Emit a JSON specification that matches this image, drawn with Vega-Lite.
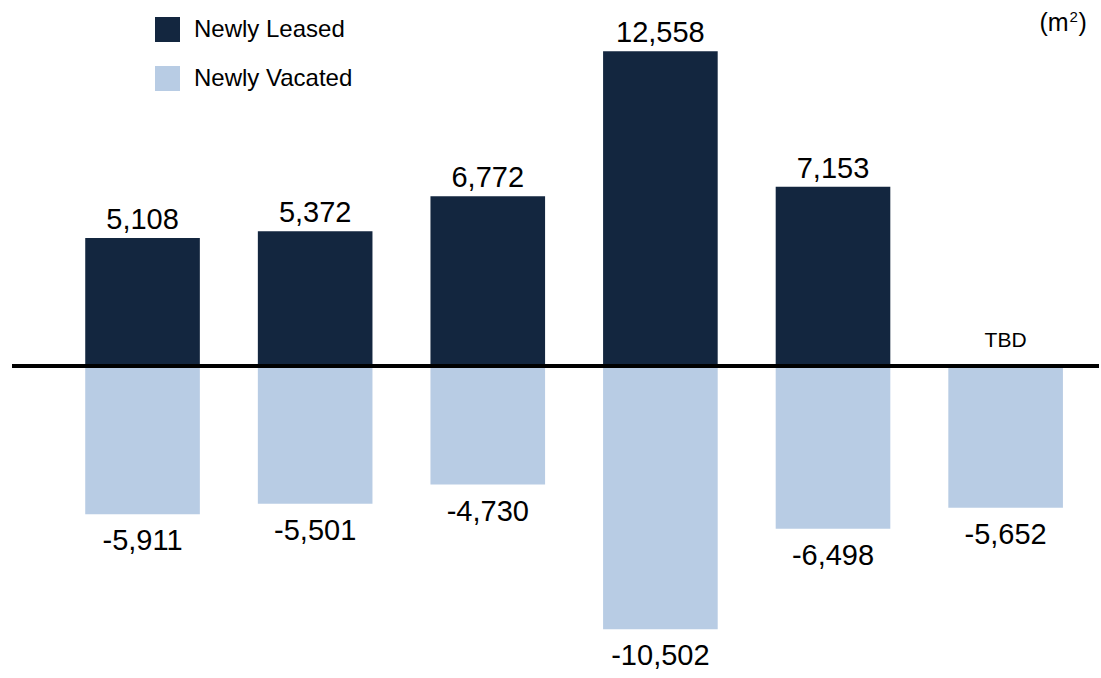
{
  "$schema": "https://vega.github.io/schema/vega-lite/v6.json",
  "width": 1101,
  "height": 678,
  "autosize": {"type": "fit", "contains": "padding"},
  "padding": {"left": 10, "top": 0, "right": 0, "bottom": 0},
  "background": "white",
  "config": {
    "view": {"stroke": null},
    "font": "Liberation Sans",
    "text": {"font": "Liberation Sans", "color": "black"}
  },
  "data": {
    "values": [
      {"period": "P1", "type": "Newly Leased", "value": 5108, "label": "5,108"},
      {"period": "P1", "type": "Newly Vacated", "value": -5911, "label": "-5,911"},
      {"period": "P2", "type": "Newly Leased", "value": 5372, "label": "5,372"},
      {"period": "P2", "type": "Newly Vacated", "value": -5501, "label": "-5,501"},
      {"period": "P3", "type": "Newly Leased", "value": 6772, "label": "6,772"},
      {"period": "P3", "type": "Newly Vacated", "value": -4730, "label": "-4,730"},
      {"period": "P4", "type": "Newly Leased", "value": 12558, "label": "12,558"},
      {"period": "P4", "type": "Newly Vacated", "value": -10502, "label": "-10,502"},
      {"period": "P5", "type": "Newly Leased", "value": 7153, "label": "7,153"},
      {"period": "P5", "type": "Newly Vacated", "value": -6498, "label": "-6,498"},
      {"period": "P6", "type": "Newly Leased", "value": 0, "label": "TBD"},
      {"period": "P6", "type": "Newly Vacated", "value": -5652, "label": "-5,652"}
    ]
  },
  "encoding": {
    "x": {
      "field": "period",
      "type": "nominal",
      "axis": null,
      "scale": {"paddingInner": 0.336, "paddingOuter": 0.3166, "align": 0.67}
    },
    "y": {
      "field": "value",
      "type": "quantitative",
      "axis": null,
      "scale": {"domain": [-12449, 14603], "nice": false, "zero": false}
    }
  },
  "layer": [
    {
      "transform": [{"filter": "datum.value != 0"}],
      "mark": {"type": "bar"},
      "encoding": {
        "y2": {"datum": 0},
        "fill": {
          "field": "type",
          "type": "nominal",
          "scale": {"domain": ["Newly Leased", "Newly Vacated"], "range": ["#13263f", "#b8cce4"]},
          "legend": {
            "title": null,
            "orient": "none",
            "legendX": 143,
            "legendY": 17,
            "symbolType": "square",
            "symbolSize": 625,
            "symbolStrokeWidth": 0,
            "labelFont": "Liberation Sans",
            "labelFontSize": 24,
            "labelColor": "black",
            "labelOffset": 14,
            "rowPadding": 24,
            "padding": 0,
            "encode": {
              "symbols": {
                "enter": {
                  "fill": {"signal": "datum.value == 'Newly Leased' ? '#201d12' : '#b8cce4'"}
                },
                "update": {
                  "fill": {"signal": "datum.value == 'Newly Leased' ? '#201d12' : '#b8cce4'"},
                  "opacity": {"value": 1}
                }
              }
            }
          }
        }
      }
    },
    {
      "mark": {"type": "rule", "strokeWidth": 3, "color": "black"},
      "encoding": {"x": null, "y": {"datum": 0}}
    },
    {
      "transform": [{"filter": "datum.value > 0"}],
      "mark": {"type": "text", "fontSize": 29, "baseline": "alphabetic", "dy": -9},
      "encoding": {"text": {"field": "label"}}
    },
    {
      "transform": [{"filter": "datum.value < 0"}],
      "mark": {"type": "text", "fontSize": 29, "baseline": "alphabetic", "dy": 36},
      "encoding": {"text": {"field": "label"}}
    },
    {
      "transform": [{"filter": "datum.label == 'TBD'"}],
      "mark": {"type": "text", "fontSize": 21, "baseline": "alphabetic", "dy": -19},
      "encoding": {"text": {"field": "label"}}
    },
    {
      "transform": [{"filter": "datum.label == 'TBD'"}],
      "mark": {"type": "text", "fontSize": 25, "baseline": "alphabetic", "align": "right", "dx": 63, "dy": 31},
      "encoding": {"y": {"datum": 14603}, "text": {"value": "(m"}}
    },
    {
      "transform": [{"filter": "datum.label == 'TBD'"}],
      "mark": {"type": "text", "fontSize": 15, "baseline": "alphabetic", "align": "left", "dx": 64, "dy": 22},
      "encoding": {"y": {"datum": 14603}, "text": {"value": "2"}}
    },
    {
      "transform": [{"filter": "datum.label == 'TBD'"}],
      "mark": {"type": "text", "fontSize": 25, "baseline": "alphabetic", "align": "left", "dx": 73, "dy": 31},
      "encoding": {"y": {"datum": 14603}, "text": {"value": ")"}}
    }
  ]
}
